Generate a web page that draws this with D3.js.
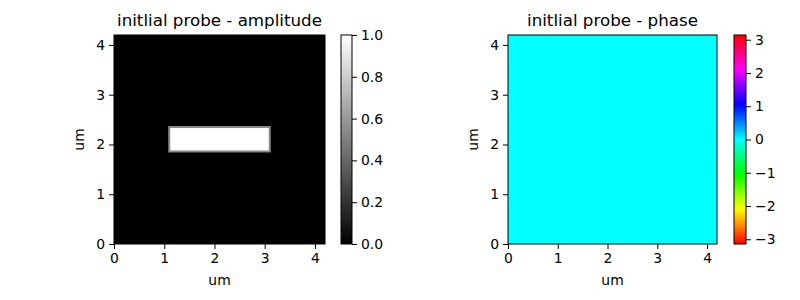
<!DOCTYPE html>
<html>
<head>
    <meta charset="utf-8">
    <title>initial probe</title>
    <script src="https://d3js.org/d3.v7.min.js"></script>
    <style>
        html, body {
            margin: 0;
            background: white;
        }
        svg text {
            font-family: "DejaVu Sans", sans-serif;
            fill: black;
        }
    </style>
</head>
<body>
    <svg id="svg"></svg>
    <script>
        // data
        const extent = [0, 4.2];
        const xTicks = [0, 1, 2, 3, 4];
        const yTicks = [0, 1, 2, 3, 4];
        const ampTicks = [0, 0.2, 0.4, 0.6, 0.8, 1.0];
        const phaseTicks = [-3, -2, -1, 0, 1, 2, 3];
        const probeX = [1.1, 3.1];
        const probeY = [1.86, 2.35];
        const probeAmp = 1;
        const edgeAmp = 0.55;
        const backgroundAmp = 0;
        const phaseValue = 0;
        const titles = ["initlial probe - amplitude", "initlial probe - phase"];

        const width = 800, height = 300;
        const svg = d3.select("#svg")
            .attr("width", width)
            .attr("height", height);

        const plotTop = 35, plotBottom = 244;

        // matplotlib hsv-ish map
        const hsv = t => d3.hsl(((t % 1) + 1) % 1 * 360, 1, 0.5).formatHex();

        const ampColor = d3.scaleLinear().domain([0, 1]).range([0, 1]).clamp(true);
        const greys = v => d3.rgb(255 * ampColor(v), 255 * ampColor(v), 255 * ampColor(v)).formatHex();
        const phaseColor = v => hsv((v + Math.PI) / (2 * Math.PI));

        const panels = [
            {left: 114, right: 325, cbLeft: 341, cbRight: 352, title: titles[0],
             cbDomain: [0, 1], cbTicks: ampTicks, cbFmt: d3.format(".1f"), color: greys, id: "amp"},
            {left: 508, right: 717, cbLeft: 734, cbRight: 746, title: titles[1],
             cbDomain: [-Math.PI, Math.PI], cbTicks: phaseTicks, cbFmt: d => d < 0 ? "\u2212" + Math.abs(d) : String(d), color: phaseColor, id: "phase"}
        ];

        const defs = svg.append("defs");

        panels.forEach((p, i) => {
            const x = d3.scaleLinear().domain(extent).range([p.left, p.right]);
            const y = d3.scaleLinear().domain(extent).range([plotBottom, plotTop]);
            const g = svg.append("g");

            // image
            if (p.id === "amp") {
                g.append("rect")
                    .attr("x", x(extent[0])).attr("y", y(extent[1]))
                    .attr("width", x(extent[1]) - x(extent[0]))
                    .attr("height", y(extent[0]) - y(extent[1]))
                    .attr("fill", greys(backgroundAmp));
                g.append("rect")
                    .attr("x", x(probeX[0])).attr("y", y(probeY[1]))
                    .attr("width", x(probeX[1]) - x(probeX[0]))
                    .attr("height", y(probeY[0]) - y(probeY[1]))
                    .attr("fill", greys(probeAmp))
                    .attr("stroke", greys(edgeAmp))
                    .attr("stroke-width", 2);
            } else {
                g.append("rect")
                    .attr("x", x(extent[0])).attr("y", y(extent[1]))
                    .attr("width", x(extent[1]) - x(extent[0]))
                    .attr("height", y(extent[0]) - y(extent[1]))
                    .attr("fill", phaseColor(phaseValue));
            }

            // frame
            g.append("rect")
                .attr("x", p.left).attr("y", plotTop)
                .attr("width", p.right - p.left).attr("height", plotBottom - plotTop)
                .attr("fill", "none").attr("stroke", "black").attr("stroke-width", 1);

            const xAxis = g.append("g")
                .attr("transform", `translate(0, ${plotBottom})`)
                .call(d3.axisBottom(x).tickValues(xTicks).tickSize(5).tickSizeOuter(0).tickPadding(4).tickFormat(d3.format("d")));
            const yAxis = g.append("g")
                .attr("transform", `translate(${p.left}, 0)`)
                .call(d3.axisLeft(y).tickValues(yTicks).tickSize(5).tickSizeOuter(0).tickPadding(4).tickFormat(d3.format("d")));
            [xAxis, yAxis].forEach(a => {
                a.select(".domain").remove();
                a.selectAll("line").attr("stroke", "black").attr("stroke-width", 1);
                a.selectAll("text").style("font-size", "13.9px").style("font-family", "DejaVu Sans");
            });

            g.append("text")
                .attr("x", (p.left + p.right) / 2)
                .attr("y", 285)
                .attr("text-anchor", "middle")
                .style("font-size", "13.9px")
                .text("um");
            g.append("text")
                .attr("transform", `translate(${p.left - 30}, ${(plotTop + plotBottom) / 2}) rotate(-90)`)
                .attr("text-anchor", "middle")
                .style("font-size", "13.9px")
                .text("um");

            g.append("text")
                .attr("x", (p.left + p.right) / 2)
                .attr("y", 26)
                .attr("text-anchor", "middle")
                .style("font-size", "16.7px")
                .text(p.title);

            // colorbar
            const cb = d3.scaleLinear().domain(p.cbDomain).range([plotBottom, plotTop]);
            const grad = defs.append("linearGradient")
                .attr("id", "grad-" + p.id)
                .attr("x1", 0).attr("x2", 0).attr("y1", 1).attr("y2", 0);
            d3.range(0, 1.0001, 0.02).forEach(t => {
                const v = p.cbDomain[0] + t * (p.cbDomain[1] - p.cbDomain[0]);
                grad.append("stop").attr("offset", t).attr("stop-color", p.color(v));
            });
            g.append("rect")
                .attr("x", p.cbLeft).attr("y", plotTop)
                .attr("width", p.cbRight - p.cbLeft).attr("height", plotBottom - plotTop)
                .attr("fill", `url(#grad-${p.id})`)
                .attr("stroke", "black").attr("stroke-width", 1);
            const cbAxis = g.append("g")
                .attr("transform", `translate(${p.cbRight}, 0)`)
                .call(d3.axisRight(cb).tickValues(p.cbTicks).tickSize(5).tickSizeOuter(0).tickPadding(4).tickFormat(p.cbFmt));
            cbAxis.select(".domain").remove();
            cbAxis.selectAll("line").attr("stroke", "black").attr("stroke-width", 1);
            cbAxis.selectAll("text").style("font-size", "13.9px").style("font-family", "DejaVu Sans");
        });
    </script>
</body>
</html>
